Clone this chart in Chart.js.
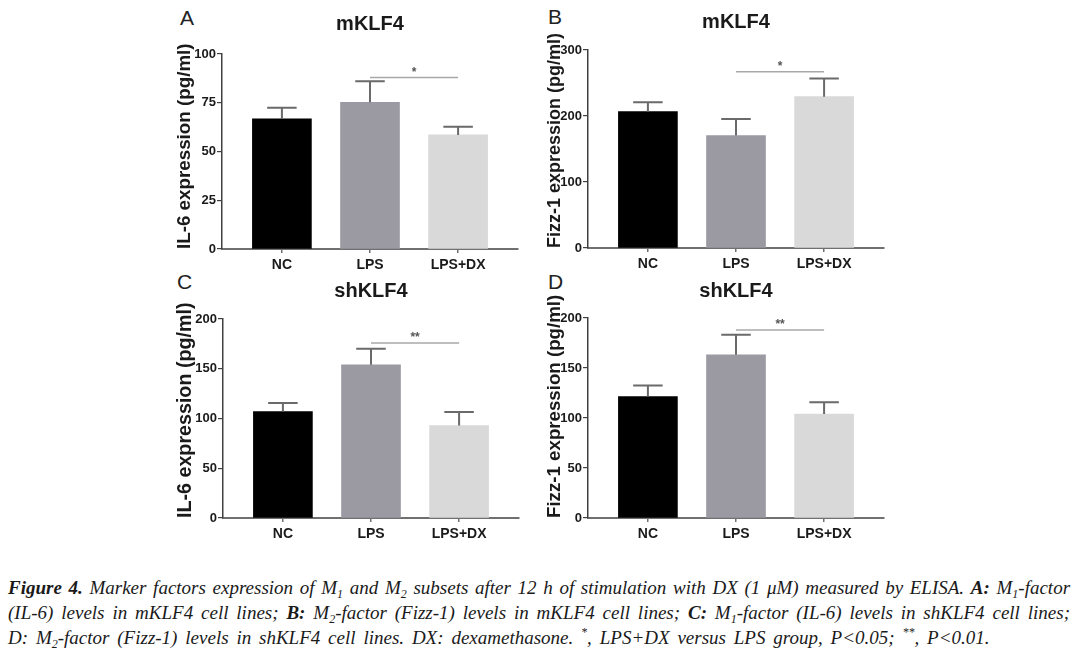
<!DOCTYPE html>
<html>
<head>
<meta charset="utf-8">
<script src="https://cdn.jsdelivr.net/npm/chart.js@4.4.1/dist/chart.umd.min.js"></script>
<style>
  html, body { margin: 0; padding: 0; background: #fff; }
  body { width: 1076px; height: 651px; position: relative; overflow: hidden; }
  .pane { position: absolute; }
  .letter { position: absolute; font-family: "Liberation Sans Narrow", "Liberation Sans", Arial, sans-serif; font-size: 21px; color: #222; line-height: 1; }
  #cap { position: absolute; left: 8px; top: 575px; width: 1062px; font-family: "Liberation Serif", "Times New Roman", serif; font-style: italic; font-size: 19px; line-height: 25px; color: #1a1a1a; }
  #cap .ln { white-space: nowrap; }
  #cap .j { text-align: justify; text-align-last: justify; white-space: normal; }
  #cap .last { word-spacing: 3.1px; }
  #cap sub { font-size: 12px; vertical-align: -4px; line-height: 0; }
  #cap sup { font-size: 12px; vertical-align: 8px; line-height: 0; }
</style>
</head>
<body>

<div class="letter" style="left:180px; top:7px;">A</div>
<div class="letter" style="left:548px; top:6px;">B</div>
<div class="letter" style="left:177px; top:271px;">C</div>
<div class="letter" style="left:548px; top:271px;">D</div>

<canvas id="cA" class="pane" style="left:148px; top:0px;"></canvas>
<canvas id="cB" class="pane" style="left:514px; top:0px;"></canvas>
<canvas id="cC" class="pane" style="left:149px; top:270px;"></canvas>
<canvas id="cD" class="pane" style="left:514px; top:270px;"></canvas>

<div id="cap">
  <div class="ln j"><b>Figure 4.</b> Marker factors expression of M<sub>1</sub> and M<sub>2</sub> subsets after 12 h of stimulation with DX (1 μM) measured by ELISA. <b>A:</b> M<sub>1</sub>-factor</div>
  <div class="ln j">(IL-6) levels in mKLF4 cell lines; <b>B:</b> M<sub>2</sub>-factor (Fizz-1) levels in mKLF4 cell lines; <b>C:</b> M<sub>1</sub>-factor (IL-6) levels in shKLF4 cell lines;</div>
  <div class="ln last">D: M<sub>2</sub>-factor (Fizz-1) levels in shKLF4 cell lines. DX: dexamethasone. <sup>*</sup>, LPS+DX versus LPS group, P&lt;0.05; <sup>**</sup>, P&lt;0.01.</div>
</div>

<script>
// ---------- data ----------
const categories = ['NC', 'LPS', 'LPS+DX'];
const barColors = ['#000000', '#9b9aa3', '#d9d9d9'];

const titlesTop = ['mKLF4', 'mKLF4', 'shKLF4', 'shKLF4'];
const yTitles = ['IL-6 expression (pg/ml)', 'Fizz-1 expression (pg/ml)', 'IL-6 expression (pg/ml)', 'Fizz-1 expression (pg/ml)'];

const valuesA = [66.7, 75.2, 58.5];
const errA    = [5.8, 10.8, 4.2];
const valuesB = [206.6, 170.4, 229.3];
const errB    = [14.2, 25.2, 27.7];
const valuesC = [107, 154, 93];
const errC    = [8.6, 16, 13.5];
const valuesD = [121.4, 163.2, 104];
const errD    = [11, 20.1, 11.8];

const yMax   = [100, 300, 200, 200];
const yTickLabels = [
  ['0', '25', '50', '75', '100'],
  ['0', '100', '200', '300'],
  ['0', '50', '100', '150', '200'],
  ['0', '50', '100', '150', '200']
];

// significance bracket (LPS vs LPS+DX): level and label
const sigLevel = [88, 267, 176, 188];
const sigLabel = ['*', '*', '**', '**'];

// ---------- layout (positions/sizes only) ----------
const panels = [
  { id: 'cA', vals: valuesA, err: errA, w: 380, h: 275, tPadTop: 12, tPadBot: 18, xH: 26, yTitleFont: 18.8, yTitleDx: 37 },
  { id: 'cB', vals: valuesB, err: errB, w: 380, h: 275, tPadTop: 10, tPadBot: 16, xH: 27, yTitleFont: 18.0, yTitleDx: 33 },
  { id: 'cC', vals: valuesC, err: errC, w: 380, h: 275, tPadTop: 9,  tPadBot: 16, xH: 27, yTitleFont: 19.7, yTitleDx: 37 },
  { id: 'cD', vals: valuesD, err: errD, w: 380, h: 275, tPadTop: 9,  tPadBot: 15, xH: 27, yTitleFont: 18.7, yTitleDx: 33 }
];

const FONT = '"Liberation Sans", Arial, sans-serif';

const decorPlugin = {
  id: 'decor',
  afterDatasetsDraw(chart, args, opts) {
    const ctx = chart.ctx;
    const xs = chart.scales.x, ys = chart.scales.y;
    const meta = chart.getDatasetMeta(0);
    const vals = opts.vals, err = opts.err;
    ctx.save();
    // error bars (upper only)
    ctx.strokeStyle = '#6a6a6a';
    ctx.lineWidth = 2;
    meta.data.forEach((bar, i) => {
      const x = xs.getPixelForValue(i);
      const y0 = ys.getPixelForValue(vals[i]);
      const y1 = ys.getPixelForValue(vals[i] + err[i]);
      const half = bar.width / 4;
      ctx.beginPath();
      ctx.moveTo(x, y0);
      ctx.lineTo(x, y1);
      ctx.moveTo(x - half, y1);
      ctx.lineTo(x + half, y1);
      ctx.stroke();
    });
    // significance line
    const xa = xs.getPixelForValue(1), xb = xs.getPixelForValue(2);
    const ysig = ys.getPixelForValue(opts.sig);
    ctx.strokeStyle = '#a8a8a8';
    ctx.lineWidth = 1.5;
    ctx.beginPath();
    ctx.moveTo(xa, ysig);
    ctx.lineTo(xb, ysig);
    ctx.stroke();
    ctx.fillStyle = '#555';
    ctx.font = 'bold 12px ' + FONT;
    ctx.textAlign = 'center';
    ctx.textBaseline = 'middle';
    ctx.fillText(opts.sigText, (xa + xb) / 2, ysig - 5);
    // rotated y-axis title, starting at the x-axis level
    ctx.fillStyle = '#1a1a1a';
    ctx.font = 'bold ' + opts.yTitleFont + 'px ' + FONT;
    ctx.translate(chart.chartArea.left - opts.yTitleDx, chart.chartArea.bottom);
    ctx.rotate(-Math.PI / 2);
    ctx.textAlign = 'left';
    ctx.textBaseline = 'middle';
    ctx.fillText(opts.yTitle, 0, 0);
    ctx.restore();
  }
};

panels.forEach((p, k) => {
  const cv = document.getElementById(p.id);
  cv.width = p.w; cv.height = p.h;
  cv.style.width = p.w + 'px'; cv.style.height = p.h + 'px';
  new Chart(cv, {
    type: 'bar',
    data: {
      datasets: [{
        data: p.vals.map((v, i) => ({ x: i, y: v })),
        backgroundColor: barColors,
        borderWidth: 0,
        barThickness: 59
      }]
    },
    plugins: [decorPlugin],
    options: {
      responsive: false,
      animation: false,
      devicePixelRatio: 1,
      layout: { padding: { left: 0, right: 10, top: 0, bottom: 0 } },
      plugins: {
        legend: { display: false },
        tooltip: { enabled: false },
        title: {
          display: true,
          text: titlesTop[k],
          fullSize: false,
          color: '#1a1a1a',
          font: { family: FONT, size: 20, weight: 'bold', lineHeight: 1.2 },
          padding: { top: p.tPadTop, bottom: p.tPadBot }
        },
        decor: { vals: p.vals, err: p.err, sig: sigLevel[k], sigText: sigLabel[k], yTitle: yTitles[k], yTitleFont: p.yTitleFont, yTitleDx: p.yTitleDx }
      },
      scales: {
        x: {
          type: 'linear',
          offset: false,
          min: -0.68, max: 2.68,
          afterBuildTicks: (s) => { s.ticks = categories.map((c, i) => ({ value: i })); },
          afterFit: (s) => { s.height = p.xH; },
          ticks: {
            callback: (v) => categories[v],
            color: '#1a1a1a',
            font: { family: FONT, size: 14, weight: 'bold' },
            padding: 4,
            maxRotation: 0
          },
          grid: { offset: false, drawOnChartArea: false, drawTicks: true, tickLength: 4, color: '#707070', lineWidth: 1.5 },
          border: { display: true, color: '#707070', width: 2 }
        },
        y: {
          min: 0, max: yMax[k],
          afterBuildTicks: (s) => { s.ticks = yTickLabels[k].map(t => ({ value: Number(t) })); },
          afterFit: (s) => { s.width = 74; },
          ticks: {
            callback: (v) => yTickLabels[k][yTickLabels[k].indexOf(String(v))],
            color: '#1a1a1a',
            font: { family: FONT, size: 13, weight: 'bold' },
            padding: 1
          },
          grid: { drawOnChartArea: false, drawTicks: true, tickLength: 5, color: '#404040', lineWidth: 1.2 },
          border: { display: true, color: '#404040', width: 1.5 }
        }
      }
    }
  });
});
</script>
</body>
</html>
